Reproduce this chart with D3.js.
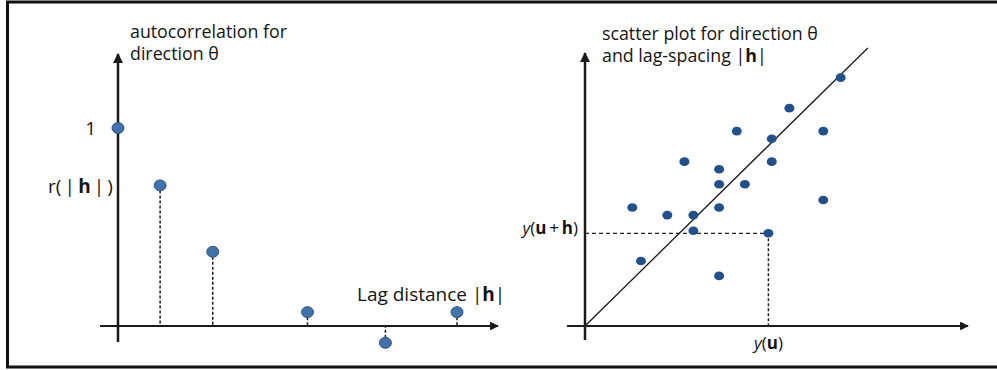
<!DOCTYPE html>
<html><head><meta charset="utf-8">
<script src="https://cdn.jsdelivr.net/npm/d3@7"></script>
<style>
html,body{margin:0;padding:0;background:#fff;}
svg{display:block;}
text{font-family:"Open Sans","Lato",sans-serif;fill:#141414;}
</style></head>
<body><svg id="c" width="997" height="370"></svg>
<script>
// Left panel: autocorrelation vs lag distance
const lags = [0, 1, 2.25, 4.5, 6.35, 8.05];
const rValues = [1, 0.71, 0.375, 0.07, -0.085, 0.07];
// Right panel: scatter y(u) vs y(u+h)
const yU   = [9.13, 7.30, 5.42, 6.67, 8.51, 3.55, 6.67, 4.79, 4.79, 5.71, 8.51, 1.69, 2.94, 3.87, 4.79, 3.87, 6.55, 2.00, 4.79];
const yUH  = [8.87, 7.78, 6.96, 6.69, 6.96, 5.87, 5.87, 5.60, 5.06, 5.06, 4.50, 4.23, 3.96, 3.96, 4.23, 3.40, 3.31, 2.32, 1.79];
const highlightIndex = 16;
const diagEnd = [10.1, 9.93];

const svg = d3.select("#c");
// frame
svg.append("rect").attr("x",7.5).attr("y",2).attr("width",1000).attr("height",365)
  .attr("fill","none").attr("stroke","#111").attr("stroke-width",3);

const defs = svg.append("defs");
defs.append("marker").attr("id","arr").attr("viewBox","0 0 10 10").attr("refX",9).attr("refY",5)
  .attr("markerWidth",4).attr("markerHeight",4).attr("orient","auto")
  .append("path").attr("d","M0,0L10,5L0,10z").attr("fill","#1a1a1a");

// ---------- Left panel ----------
const xL = d3.scaleLinear().domain([0, 8.05]).range([118, 457]);
const yL = d3.scaleLinear().domain([0, 1]).range([326, 128]);
const gL = svg.append("g");
gL.append("line").attr("x1",xL(0)).attr("x2",xL(0)).attr("y1",342).attr("y2",54)
  .attr("stroke","#1a1a1a").attr("stroke-width",2.5).attr("marker-end","url(#arr)");
gL.append("line").attr("x1",100).attr("x2",498).attr("y1",yL(0)).attr("y2",yL(0))
  .attr("stroke","#1a1a1a").attr("stroke-width",2.2).attr("marker-end","url(#arr)");
gL.selectAll(".drop").data(lags.slice(1)).join("line")
  .attr("x1",(d)=>xL(d)).attr("x2",(d)=>xL(d))
  .attr("y1",(d,i)=>yL(rValues[i+1])).attr("y2",yL(0))
  .attr("stroke","#1a1a1a").attr("stroke-width",1.5).attr("stroke-dasharray","3,2");
gL.selectAll(".pt").data(lags).join("ellipse")
  .attr("cx",d=>xL(d)).attr("cy",(d,i)=>yL(rValues[i]))
  .attr("rx",6).attr("ry",5.5)
  .attr("fill","#4272aa").attr("stroke","#2d5688").attr("stroke-width",1);

gL.append("text").attr("x",130).attr("y",38).attr("font-size",17.8).text("autocorrelation for");
gL.append("text").attr("x",130).attr("y",60).attr("font-size",17.8).text("direction θ");
gL.append("text").attr("x",96).attr("y",yL(1)+7).attr("font-size",19).attr("text-anchor","end").text("1");
const rt = gL.append("text").attr("x",48).attr("y",193).attr("font-size",19);
rt.append("tspan").text("r(\u2009|\u2009");
rt.append("tspan").attr("font-weight","bold").text("h");
rt.append("tspan").text("\u2009|\u2009)");
const lt = gL.append("text").attr("x",357).attr("y",301).attr("font-size",19);
lt.append("tspan").text("Lag distance |");
lt.append("tspan").attr("font-weight","bold").text("h");
lt.append("tspan").text("|");

// ---------- Right panel ----------
const xR = d3.scaleLinear().domain([0,10]).range([585,865]);
const yR = d3.scaleLinear().domain([0,10]).range([326,46]);
const gR = svg.append("g");
gR.append("line").attr("x1",xR(0)).attr("x2",xR(0)).attr("y1",340).attr("y2",53)
  .attr("stroke","#1a1a1a").attr("stroke-width",2.5).attr("marker-end","url(#arr)");
gR.append("line").attr("x1",567).attr("x2",968).attr("y1",yR(0)).attr("y2",yR(0))
  .attr("stroke","#1a1a1a").attr("stroke-width",2.2).attr("marker-end","url(#arr)");
gR.append("line").attr("x1",xR(0)).attr("y1",yR(0)).attr("x2",xR(diagEnd[0])).attr("y2",yR(diagEnd[1]))
  .attr("stroke","#1a1a1a").attr("stroke-width",1.3);
const hx = yU[highlightIndex], hy = yUH[highlightIndex];
gR.append("line").attr("x1",xR(0)).attr("x2",xR(hx)).attr("y1",yR(hy)).attr("y2",yR(hy))
  .attr("stroke","#222").attr("stroke-width",1.3).attr("stroke-dasharray","4,3");
gR.append("line").attr("x1",xR(hx)).attr("x2",xR(hx)).attr("y1",yR(hy)).attr("y2",yR(0))
  .attr("stroke","#222").attr("stroke-width",1.5).attr("stroke-dasharray","3,2");
gR.selectAll(".sp").data(yU).join("ellipse")
  .attr("cx",d=>xR(d)).attr("cy",(d,i)=>yR(yUH[i]))
  .attr("rx",5).attr("ry",4.3)
  .attr("fill","#22508a");

gR.append("text").attr("x",602).attr("y",40).attr("font-size",17.8).text("scatter plot for direction θ");
const st = gR.append("text").attr("x",602).attr("y",62).attr("font-size",17.8);
st.append("tspan").text("and lag-spacing |");
st.append("tspan").attr("font-weight","bold").text("h");
st.append("tspan").text("|");
const yt = gR.append("text").attr("x",578).attr("y",yR(hy)+1).attr("font-size",17).attr("text-anchor","end");
yt.append("tspan").attr("font-style","italic").text("y");
yt.append("tspan").text("(");
yt.append("tspan").attr("font-weight","bold").text("u");
yt.append("tspan").text("\u2009+\u2009");
yt.append("tspan").attr("font-weight","bold").text("h");
yt.append("tspan").text(")");
const ut = gR.append("text").attr("x",xR(hx)).attr("y",349).attr("font-size",17).attr("text-anchor","middle");
ut.append("tspan").attr("font-style","italic").text("y");
ut.append("tspan").text("(");
ut.append("tspan").attr("font-weight","bold").text("u");
ut.append("tspan").text(")");
</script></body></html>
